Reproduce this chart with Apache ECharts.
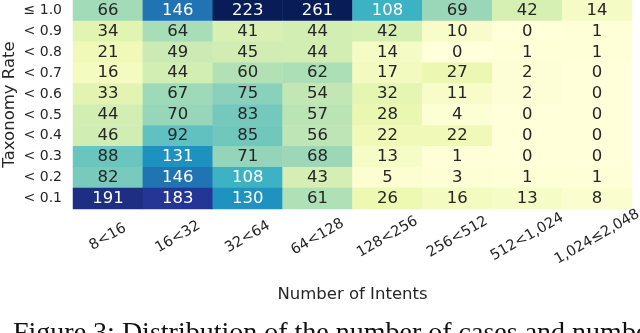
<!DOCTYPE html>
<html>
<head>
<meta charset="utf-8">
<script src="https://cdn.jsdelivr.net/npm/echarts@6/dist/echarts.min.js"></script>
<style>
html,body{margin:0;padding:0;background:#fff;}
#chart{width:640px;height:333px;}
</style>
</head>
<body>
<div id="chart"></div>
<script>
// Column categories (Number of Intents)
var xCategories = ['8<16', '16<32', '32<64', '64<128', '128<256', '256<512', '512<1,024', '1,024≤2,048'];
// Row categories (Taxonomy Rate), top to bottom
var yCategories = ['≤ 1.0', '< 0.9', '< 0.8', '< 0.7', '< 0.6', '< 0.5', '< 0.4', '< 0.3', '< 0.2', '< 0.1'];

// Cell counts, one array per row (top to bottom)
var rowLe10 = [66, 146, 223, 261, 108, 69, 42, 14];
var rowLt09 = [34, 64, 41, 44, 42, 10, 0, 1];
var rowLt08 = [21, 49, 45, 44, 14, 0, 1, 1];
var rowLt07 = [16, 44, 60, 62, 17, 27, 2, 0];
var rowLt06 = [33, 67, 75, 54, 32, 11, 2, 0];
var rowLt05 = [44, 70, 83, 57, 28, 4, 0, 0];
var rowLt04 = [46, 92, 85, 56, 22, 22, 0, 0];
var rowLt03 = [88, 131, 71, 68, 13, 1, 0, 0];
var rowLt02 = [82, 146, 108, 43, 5, 3, 1, 1];
var rowLt01 = [191, 183, 130, 61, 26, 16, 13, 8];

var rows = [rowLe10, rowLt09, rowLt08, rowLt07, rowLt06, rowLt05, rowLt04, rowLt03, rowLt02, rowLt01];

var data = [];
rows.forEach(function (row, yi) {
  row.forEach(function (v, xi) {
    data.push({
      value: [xi, yi, v],
      label: { color: v > 100 ? '#ffffff' : '#262626' }
    });
  });
});

var FONT = 'DejaVu Sans';
var chart = echarts.init(document.getElementById('chart'), null, { renderer: 'canvas' });
chart.setOption({
  animation: false,
  backgroundColor: '#ffffff',
  grid: { left: 73, right: 8, top: 0, bottom: 124, containLabel: false, outerBoundsMode: 'none' },
  xAxis: {
    type: 'category',
    data: xCategories,
    axisLine: { show: false },
    axisTick: { show: false },
    splitArea: { show: false },
    axisLabel: {
      rotate: 30,
      align: 'center',
      verticalAlign: 'middle',
      margin: 28,
      fontSize: 14.5,
      fontFamily: FONT,
      color: '#262626',
      interval: 0,
      hideOverlap: false
    },
    name: 'Number of Intents',
    nameLocation: 'middle',
    nameGap: 77,
    nameMoveOverlap: false,
    nameTextStyle: { fontSize: 16.5, fontFamily: FONT, color: '#262626' }
  },
  yAxis: {
    type: 'category',
    data: yCategories,
    inverse: true,
    axisLine: { show: false },
    axisTick: { show: false },
    splitArea: { show: false },
    axisLabel: {
      margin: 11,
      fontSize: 14,
      fontFamily: FONT,
      color: '#262626',
      interval: 0
    },
    name: 'Taxonomy Rate',
    nameLocation: 'middle',
    nameGap: 55,
    nameMoveOverlap: false,
    nameTextStyle: { fontSize: 16.5, fontFamily: FONT, color: '#262626' }
  },
  visualMap: {
    show: false,
    type: 'continuous',
    min: 0,
    max: 210,
    dimension: 2,
    inRange: {
      color: ['#ffffd9', '#edf8b1', '#c7e9b4', '#7fcdbb', '#41b6c4', '#1d91c0', '#225ea8', '#253494', '#081d58']
    }
  },
  series: [{
    type: 'heatmap',
    data: data,
    itemStyle: { borderWidth: 0 },
    label: {
      show: true,
      fontSize: 16.5,
      fontFamily: FONT,
      formatter: function (p) { return p.value[2]; }
    },
    emphasis: { disabled: true }
  }],
  graphic: [{
    type: 'text',
    left: 13,
    top: 320,
    style: {
      text: 'Figure 3: Distribution of the number of cases and number',
      font: '28px "Liberation Serif", "Times New Roman", serif',
      fill: '#111111'
    }
  }]
});
</script>
</body>
</html>
